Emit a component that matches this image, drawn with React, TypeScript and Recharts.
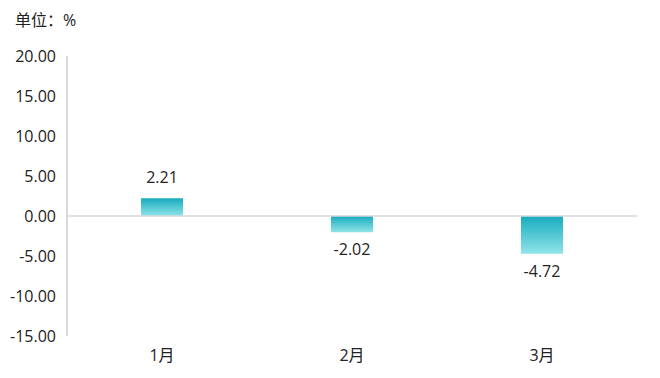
import React from "react"
import { Bar, BarChart, XAxis, YAxis, ReferenceLine, LabelList } from "recharts"

const months = ["1月", "2月", "3月"]
const values = [2.21, -2.02, -4.72]
const yTicks = [-15, -10, -5, 0, 5, 10, 15, 20]

const data = months.map((m, i) => ({ name: m, value: values[i] }))

const font = "'Open Sans', 'Noto Sans CJK SC', sans-serif"

const renderLabel = (props: any) => {
  const { x, y, width, height, value } = props
  const cx = x + width / 2
  const top = Math.min(y, y + height)
  const bottom = Math.max(y, y + height)
  const ty = value >= 0 ? top - 20 : bottom + 19
  return (
    <text x={cx} y={ty} textAnchor="middle" dominantBaseline="middle" fontSize={16} fill="#222" fontFamily={font}>
      {value.toFixed(2)}
    </text>
  )
}

export default function App() {
  return (
    <div style={{ position: "absolute", left: 0, top: 0, width: 660, height: 378, background: "#fff" }}>
      <div style={{ position: "absolute", left: 15, top: 7, fontSize: 16, fontFamily: font, color: "#222" }}>单位：%</div>
      <BarChart width={660} height={378} data={data} margin={{ top: 56, right: 23, left: 7, bottom: 0 }}>
        <defs>
          <linearGradient id="barGrad" x1="0" y1="0" x2="0" y2="1">
            <stop offset="0%" stopColor="#17abbf" />
            <stop offset="100%" stopColor="#8fe5e8" />
          </linearGradient>
        </defs>
        <XAxis
          dataKey="name"
          axisLine={false}
          tickLine={false}
          height={42}
          tickMargin={8}
          tick={{ fontSize: 16, fill: "#222", fontFamily: font }}
        />
        <YAxis
          domain={[-15, 20]}
          ticks={yTicks}
          width={60}
          tickLine={false}
          axisLine={{ stroke: "#d9d9d9", strokeWidth: 2 }}
          tickFormatter={(v: number) => v.toFixed(2)}
          tick={{ fontSize: 16, fill: "#222", fontFamily: font }}
          tickMargin={5}
        />
        <ReferenceLine y={0} stroke="#d9d9d9" strokeWidth={1.5} />
        <Bar dataKey="value" fill="url(#barGrad)" barSize={42} isAnimationActive={false}>
          <LabelList dataKey="value" content={renderLabel} />
        </Bar>
      </BarChart>
    </div>
  )
}
